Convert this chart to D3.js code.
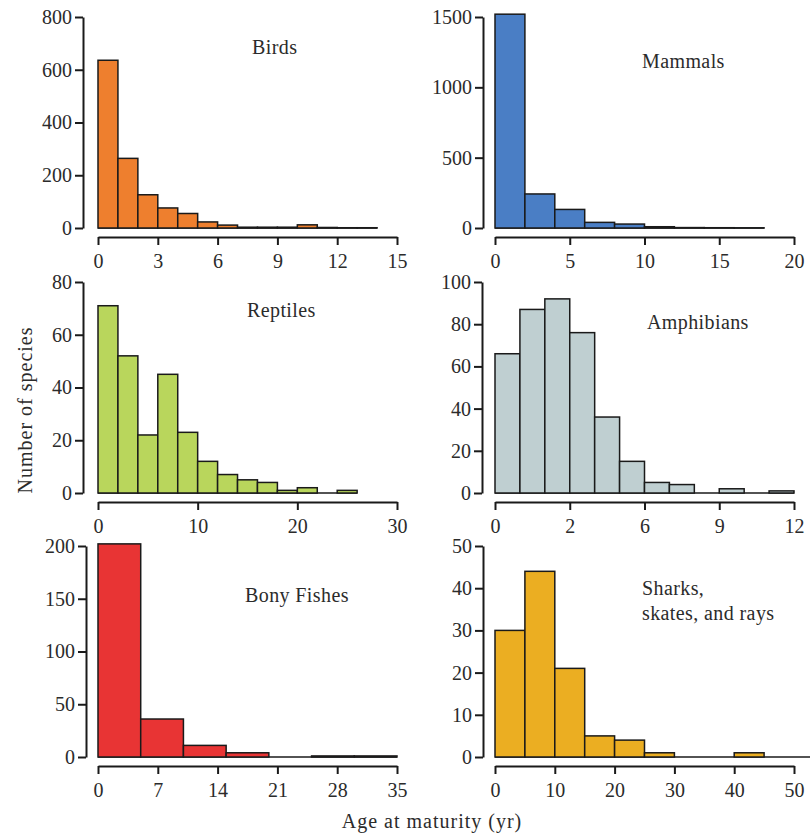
<!DOCTYPE html>
<html>
<head>
<meta charset="utf-8">
<script src="https://cdn.jsdelivr.net/npm/d3@7"></script>
<style>
  html, body { margin: 0; padding: 0; background: #ffffff; }
  svg { display: block; }
  text { font-family: "Liberation Serif", "Times New Roman", serif; fill: #2b2b2b; }
</style>
</head>
<body>
<svg id="chart" width="810" height="835"></svg>
<script>
// Species counts per age-at-maturity bin (years)
const birdsCounts      = [636, 264, 126, 76, 55, 23, 11, 3, 3, 3, 12, 2, 1, 1];
const mammalsCounts    = [1520, 242, 132, 40, 28, 9, 3, 2, 1];
const reptilesCounts   = [71, 52, 22, 45, 23, 12, 7, 5, 4, 1, 2, 0, 1];
const amphibiansCounts = [66, 87, 92, 76, 36, 15, 5, 4, 0, 2, 0, 1];
const bonyCounts       = [202, 36, 11, 4, 0, 1, 1];
const sharksCounts     = [30, 44, 21, 5, 4, 1, 0, 0, 1, 0, 0];

// Bin widths (years)
const binWidths = { birds: 1, mammals: 2, reptiles: 2, amphibians: 1, bony: 5, sharks: 5 };

// Axis ticks
const birdsXTicks = [0, 3, 6, 9, 12, 15];
const birdsYTicks = [0, 200, 400, 600, 800];
const mammalsXTicks = [0, 5, 10, 15, 20];
const mammalsYTicks = [0, 500, 1000, 1500];
const reptilesXTicks = [0, 10, 20, 30];
const reptilesYTicks = [0, 20, 40, 60, 80];
const amphibiansXTicks = [0, 3, 6, 9, 12];
const amphibiansXTickLabels = ["0", "2", "6", "9", "12"];
const amphibiansYTicks = [0, 20, 40, 60, 80, 100];
const bonyXTicks = [0, 7, 14, 21, 28, 35];
const bonyYTicks = [0, 50, 100, 150, 200];
const sharksXTicks = [0, 10, 20, 30, 40, 50];
const sharksYTicks = [0, 10, 20, 30, 40, 50];

const svg = d3.select("#chart");

// Panel layout: column x ranges, row baselines
const colX = [[98, 397], [495, 794]];
const rowY0 = [228, 493, 757];
const plotH = 211;

const panels = [
  { key: "birds", title: ["Birds"], color: "#EE7F2E", counts: birdsCounts,
    xTicks: birdsXTicks, yTicks: birdsYTicks, col: 0, row: 0, yGap: 15, title_dx: 154, title_dy: -174 },
  { key: "mammals", title: ["Mammals"], color: "#4A7EC5", counts: mammalsCounts,
    xTicks: mammalsXTicks, yTicks: mammalsYTicks, col: 1, row: 0, yGap: 12, title_dx: 147, title_dy: -160 },
  { key: "reptiles", title: ["Reptiles"], color: "#B9D65C", counts: reptilesCounts,
    xTicks: reptilesXTicks, yTicks: reptilesYTicks, col: 0, row: 1, yGap: 15, title_dx: 149, title_dy: -176 },
  { key: "amphibians", title: ["Amphibians"], color: "#BFCFD1", counts: amphibiansCounts,
    xTicks: amphibiansXTicks, xTickLabels: amphibiansXTickLabels, yTicks: amphibiansYTicks,
    col: 1, row: 1, yGap: 13, title_dx: 152, title_dy: -164 },
  { key: "bony", title: ["Bony Fishes"], color: "#E83434", counts: bonyCounts,
    xTicks: bonyXTicks, yTicks: bonyYTicks, col: 0, row: 2, yGap: 12, title_dx: 147, title_dy: -155 },
  { key: "sharks", title: ["Sharks,", "skates, and rays"], color: "#EBAE22", counts: sharksCounts,
    xTicks: sharksXTicks, yTicks: sharksYTicks, col: 1, row: 2, yGap: 12, title_dx: 147, title_dy: -162 }
];

panels.forEach(p => {
  const [xa, xb] = colX[p.col];
  const y0 = rowY0[p.row];
  const bw = binWidths[p.key];
  const xMax = p.xTicks[p.xTicks.length - 1];
  const yMax = p.yTicks[p.yTicks.length - 1];

  const x = d3.scaleLinear().domain([0, xMax]).range([xa, xb]);
  const y = d3.scaleLinear().domain([0, yMax]).range([y0, y0 - plotH]);

  const g = svg.append("g");

  const bins = p.counts.map((c, i) => ({ x0: i * bw, x1: (i + 1) * bw, n: c }));

  // baseline under all bins (zero-count bins show as this line)
  g.append("line")
    .attr("x1", x(0)).attr("x2", x(bins[bins.length - 1].x1))
    .attr("y1", y(0)).attr("y2", y(0))
    .attr("stroke", "#1a1a1a").attr("stroke-width", 1.6);

  g.selectAll("rect.bar")
    .data(bins.filter(d => d.n > 0))
    .join("rect")
    .attr("class", "bar")
    .attr("x", d => x(d.x0))
    .attr("width", d => x(d.x1) - x(d.x0))
    .attr("y", d => y(d.n))
    .attr("height", d => y(0) - y(d.n))
    .attr("fill", p.color)
    .attr("stroke", "#1a1a1a")
    .attr("stroke-width", 1.5);

  // y axis
  const yAxis = d3.axisLeft(y).tickValues(p.yTicks).tickFormat(d3.format("d"))
    .tickSize(8).tickSizeOuter(0).tickPadding(3);
  const ya = g.append("g")
    .attr("transform", `translate(${xa - p.yGap},0)`)
    .call(yAxis);
  ya.select(".domain").attr("stroke", "#1a1a1a").attr("stroke-width", 2);
  ya.selectAll(".tick line").attr("stroke", "#1a1a1a").attr("stroke-width", 2);
  ya.selectAll(".tick text").attr("font-size", 20).attr("font-family", "Liberation Serif").attr("fill", "#2b2b2b");

  // x axis
  const xAxis = d3.axisBottom(x).tickValues(p.xTicks).tickSize(8).tickSizeOuter(0).tickPadding(9)
    .tickFormat((d, i) => p.xTickLabels ? p.xTickLabels[i] : String(d));
  const xaG = g.append("g")
    .attr("transform", `translate(0,${y0 + 9})`)
    .call(xAxis);
  xaG.select(".domain").attr("stroke", "#1a1a1a").attr("stroke-width", 2);
  xaG.selectAll(".tick line").attr("stroke", "#1a1a1a").attr("stroke-width", 2);
  xaG.selectAll(".tick text").attr("font-size", 20).attr("font-family", "Liberation Serif").attr("fill", "#2b2b2b");

  // panel title
  const t = g.append("text")
    .attr("x", xa + p.title_dx)
    .attr("y", y0 + p.title_dy)
    .attr("font-size", 20)
    .attr("letter-spacing", 0.4);
  p.title.forEach((line, i) => {
    t.append("tspan").attr("x", xa + p.title_dx).attr("dy", i === 0 ? 0 : 25).text(line);
  });
});

// shared axis titles
svg.append("text")
  .attr("x", 432).attr("y", 828)
  .attr("text-anchor", "middle")
  .attr("font-size", 20)
  .attr("letter-spacing", 1)
  .text("Age at maturity (yr)");

svg.append("text")
  .attr("transform", "translate(32,410) rotate(-90)")
  .attr("text-anchor", "middle")
  .attr("font-size", 20)
  .attr("letter-spacing", 1)
  .text("Number of species");
</script>
</body>
</html>
